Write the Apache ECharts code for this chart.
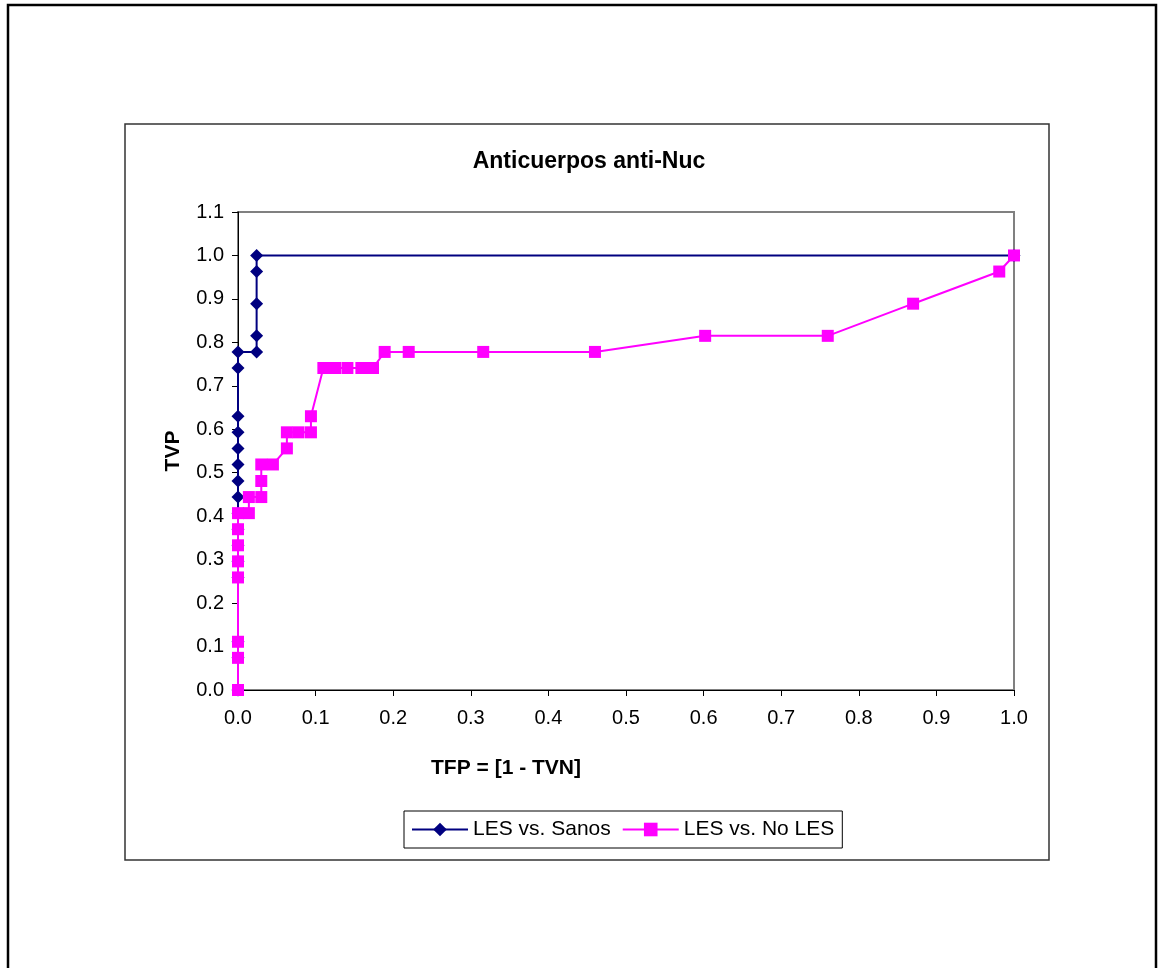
<!DOCTYPE html>
<html>
<head>
<meta charset="utf-8">
<script src="https://cdn.jsdelivr.net/npm/echarts@6/dist/echarts.min.js"></script>
<style>
html,body{margin:0;padding:0;background:#fff;}
#chart{width:1164px;height:968px;}
</style>
</head>
<body>
<div id="chart"></div>
<script>
const titleText = 'Anticuerpos anti-Nuc';
const xAxisTitle = 'TFP = [1 - TVN]';
const yAxisTitle = 'TVP';
const seriesNames = ['LES vs. Sanos', 'LES vs. No LES'];

const sanosX = [0,0,0,0,0,0,0,0,0,0,0,0,0,0,0,0,0.024,0.024,0.024,0.024,0.024,1.0];
const sanosY = [0,0.074,0.111,0.259,0.296,0.333,0.370,0.407,0.444,0.481,0.519,0.556,0.593,0.630,0.741,0.778,0.778,0.815,0.889,0.963,1.0,1.0];

const noLesX = [0,0,0,0,0,0,0,0,0.014,0.014,0.030,0.030,0.030,0.045,0.063,0.063,0.078,0.094,0.094,0.110,0.125,0.141,0.159,0.174,0.189,0.220,0.316,0.460,0.602,0.760,0.870,0.981,1.0];
const noLesY = [0,0.074,0.111,0.259,0.296,0.333,0.370,0.407,0.407,0.444,0.444,0.481,0.519,0.519,0.556,0.593,0.593,0.593,0.630,0.741,0.741,0.741,0.741,0.741,0.778,0.778,0.778,0.778,0.815,0.815,0.889,0.963,1.0];

const pair = (xs, ys) => xs.map((x, i) => [x, ys[i]]);
const FONT = '"Liberation Sans", Arial, sans-serif';

const chart = echarts.init(document.getElementById('chart'));
chart.setOption({
  animation: false,
  backgroundColor: '#ffffff',
  textStyle: { fontFamily: FONT, color: '#000' },
  grid: {
    left: 238, right: 150, top: 212, bottom: 278,
    show: true, borderColor: '#808080', borderWidth: 2, backgroundColor: 'transparent'
  },
  xAxis: {
    type: 'value', min: 0, max: 1, interval: 0.1,
    axisLine: { show: true, onZero: false, lineStyle: { color: '#000', width: 1 } },
    axisTick: { show: true, inside: false, length: 6, lineStyle: { color: '#000' } },
    axisLabel: { color: '#000', fontSize: 20, fontFamily: FONT, margin: 18,
      formatter: v => v.toFixed(1) },
    splitLine: { show: false }
  },
  yAxis: {
    type: 'value', min: 0, max: 1.1, interval: 0.1,
    axisLine: { show: true, onZero: false, lineStyle: { color: '#000', width: 1 } },
    axisTick: { show: true, inside: false, length: 6, lineStyle: { color: '#000' } },
    axisLabel: { color: '#000', fontSize: 20, fontFamily: FONT, margin: 14,
      formatter: v => v.toFixed(1) },
    splitLine: { show: false }
  },
  legend: {
    left: 404, top: 811,
    orient: 'horizontal',
    padding: [8, 8, 8, 7],
    itemGap: 11,
    itemWidth: 56, itemHeight: 17,
    borderColor: '#000', borderWidth: 1,
    textStyle: { fontSize: 21, fontFamily: FONT, color: '#000' },
    data: seriesNames
  },
  graphic: [
    { type: 'rect', silent: true, z: -10,
      shape: { x: 8, y: 5, width: 1148, height: 1000 },
      style: { fill: 'none', stroke: '#000', lineWidth: 2.5 } },
    { type: 'rect', silent: true, z: -9,
      shape: { x: 125, y: 124, width: 924, height: 736 },
      style: { fill: 'none', stroke: '#333', lineWidth: 1.5 } },
    { type: 'text', silent: true, x: 589, y: 162,
      style: { text: titleText, font: 'bold 23px ' + FONT, fill: '#000', align: 'center', verticalAlign: 'middle' } },
    { type: 'text', silent: true, x: 506, y: 768,
      style: { text: xAxisTitle, font: 'bold 21px ' + FONT, fill: '#000', align: 'center', verticalAlign: 'middle' } },
    { type: 'text', silent: true, x: 173, y: 451, rotation: Math.PI / 2,
      style: { text: yAxisTitle, font: 'bold 21px ' + FONT, fill: '#000', align: 'center', verticalAlign: 'middle' } }
  ],
  series: [
    {
      name: seriesNames[0], type: 'line',
      data: pair(sanosX, sanosY),
      symbol: 'diamond', symbolSize: 13, showAllSymbol: true, clip: false,
      lineStyle: { color: '#000080', width: 2 },
      itemStyle: { color: '#000080' },
      z: 2
    },
    {
      name: seriesNames[1], type: 'line',
      data: pair(noLesX, noLesY),
      symbol: 'rect', symbolSize: 12, showAllSymbol: true, clip: false,
      lineStyle: { color: '#FF00FF', width: 2 },
      itemStyle: { color: '#FF00FF' },
      z: 3
    }
  ]
});
</script>
</body>
</html>
